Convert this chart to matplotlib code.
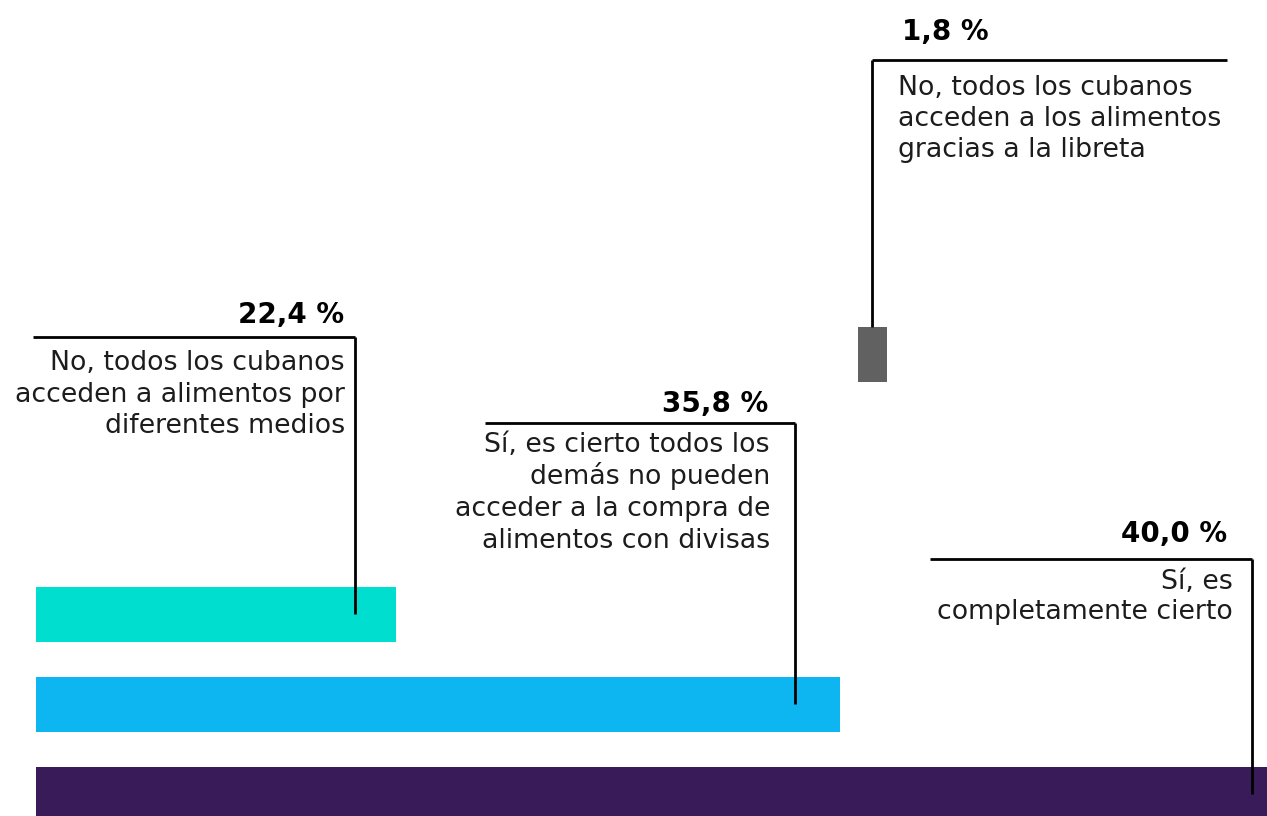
import matplotlib
matplotlib.use("Agg")
from matplotlib import pyplot as plt

# answers, values shown on the labels (%)
answers = [
    'Sí, es\ncompletamente cierto',
    'Sí, es cierto todos los\ndemás no pueden\nacceder a la compra de\nalimentos con divisas',
    'No, todos los cubanos\nacceden a alimentos por\ndiferentes medios',
    'No, todos los cubanos\nacceden a los alimentos\ngracias a la libreta',
]
values = [40.0, 35.8, 22.4, 1.8]
# bar geometry as drawn in the source graphic (x units)
bar_left = [0, 0, 0, 51.15]
bar_len = [80.0, 50.0, 22.4, 1.8]
bar_row = [0, 1, 2, 4.88]
colors = ['#3a1b5a', '#0eb6f1', '#00dfcf', '#616161']

W, H = 1267, 816
X0, PX_X = 36, 16.07      # pixel of x=0, pixels per unit
Y0, PX_Y = 794, 90        # pixel of row 0, pixels per row
BAR_H = 55 / PX_Y


def fx(px):
    return (px - X0) / PX_X


def fy(py):
    return (Y0 - py) / PX_Y


fig = plt.figure(figsize=(W / 100, H / 100), dpi=100)
ax = fig.add_axes([0, 0, 1, 1])
ax.set_xlim(fx(0), fx(W))
ax.set_ylim(fy(H), fy(0))
ax.axis('off')

ax.barh(bar_row, bar_len, left=bar_left, height=BAR_H, color=colors)

FONT = 'DejaVu Sans'
TXT = '#1c1c1c'

# leader layout per answer: corner pixel, horizontal span, text anchors
leaders = [
    dict(vx=1252, hy=559, hx=(930, 1252), side='right', val=(1227, 542), txt=(1233, 589), step=30),
    dict(vx=795, hy=423, hx=(485, 795), side='right', val=(768, 412), txt=(770, 452), step=32),
    dict(vx=354.5, hy=337, hx=(33, 355), side='right', val=(344, 323), txt=(345, 370), step=31.5),
    dict(vx=872, hy=60, hx=(872, 1227), side='left', val=(902, 40), txt=(898, 95), step=31),
]

for i, ld in enumerate(leaders):
    row = bar_row[i]
    end_y = row + BAR_H / 2 if i == 3 else row
    ax.plot([fx(ld['hx'][0]), fx(ld['hx'][1])], [fy(ld['hy']), fy(ld['hy'])],
            color='black', lw=2, solid_capstyle='butt')
    ax.plot([fx(ld['vx']), fx(ld['vx'])], [fy(ld['hy']), end_y],
            color='black', lw=2, solid_capstyle='butt')

    ha = ld['side']
    label = '{:.1f} %'.format(values[i]).replace('.', ',')
    ax.text(fx(ld['val'][0]), fy(ld['val'][1]), label, ha=ha, va='baseline',
            fontsize=20, fontweight='bold', family=FONT, color='black')
    for k, line in enumerate(answers[i].split('\n')):
        ax.text(fx(ld['txt'][0]), fy(ld['txt'][1] + k * ld['step']), line,
                ha=ha, va='baseline', fontsize=19.3, family=FONT, color=TXT)

fig.savefig('out.png', dpi=100)
